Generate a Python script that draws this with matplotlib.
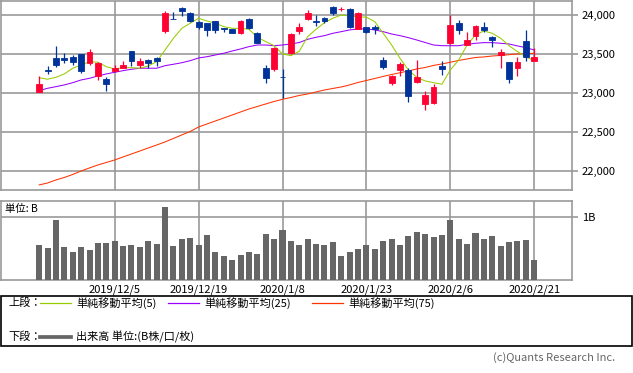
import numpy as np
import matplotlib
matplotlib.use("Agg")
import matplotlib.pyplot as plt
from matplotlib.patches import Rectangle
from matplotlib.lines import Line2D

plt.rcParams['font.family'] = ['Noto Sans CJK JP', 'DejaVu Sans']

# 2019/11/22 .. 2020/2/21, 60 trading days
opens = [23017, 23290, 23445, 23449, 23466, 23500, 23381, 23218, 23180, 23282,
         23325, 23538, 23363, 23423, 23453, 23790, 23953, 24086, 24021, 23910,
         23901, 23923, 23828, 23816, 23773, 23949, 23773, 23325, 23304, 23209,
         23517, 23795, 23949, 23918, 23966, 24107, 24075, 24077, 23816, 23842,
         23850, 23423, 23124, 23295, 23295, 23137, 22859, 22876, 23346, 23637,
         23893, 23615, 23731, 23842, 23722, 23487, 23402, 23325, 23667, 23414]
highs = [23218, 23346, 23603, 23517, 23487, 23500, 23564, 23393, 23201, 23355,
         23410, 23538, 23453, 23432, 23466, 24051, 24038, 24099, 24034, 23923,
         23901, 23927, 23837, 23816, 23936, 23962, 23783, 23359, 23594, 23308,
         23773, 23893, 24064, 24000, 23979, 24120, 24107, 24086, 24038, 23850,
         23872, 23458, 23231, 23393, 23317, 23423, 23030, 23115, 23410, 24000,
         23936, 23778, 23872, 23906, 23735, 23560, 23402, 23466, 23808, 23577]
lows = [23017, 23244, 23337, 23381, 23359, 23260, 23359, 23167, 23030, 23269,
        23325, 23350, 23317, 23317, 23350, 23765, 23945, 23991, 23910, 23824,
        23731, 23765, 23786, 23773, 23760, 23816, 23637, 23132, 23282, 22932,
        23500, 23753, 23936, 23859, 23901, 24000, 24051, 23837, 23816, 23773,
        23752, 23308, 23103, 23218, 22889, 23124, 22782, 22855, 23231, 23624,
        23752, 23615, 23680, 23778, 23594, 23325, 23124, 23218, 23410, 23414]
closes = [23115, 23286, 23359, 23423, 23397, 23286, 23522, 23381, 23119, 23317,
          23359, 23410, 23410, 23381, 23410, 24030, 23949, 24055, 23927, 23850,
          23808, 23808, 23824, 23773, 23923, 23829, 23645, 23196, 23581, 23205,
          23753, 23850, 24021, 23914, 23927, 24030, 24079, 23850, 24030, 23786,
          23816, 23337, 23218, 23372, 22962, 23201, 22974, 23073, 23308, 23872,
          23808, 23680, 23859, 23808, 23680, 23530, 23179, 23402, 23466, 23458]

ma5 = [23196, 23176, 23201, 23244, 23317, 23359, 23401, 23394, 23337, 23308,
       23324, 23324, 23317, 23346, 23401, 23551, 23701, 23829, 23894, 23958,
       23923, 23894, 23850, 23829, 23829, 23817, 23714, 23658, 23606, 23500,
       23478, 23535, 23722, 23817, 23901, 23958, 24000, 23987, 23978, 23971,
       23914, 23765, 23615, 23445, 23295, 23201, 23154, 23132, 23112, 23295,
       23423, 23615, 23744, 23795, 23765, 23701, 23606, 23530, 23465, 23410]
ma25 = [23030, 23060, 23081, 23103, 23132, 23167, 23188, 23218, 23244, 23265,
        23286, 23304, 23317, 23317, 23317, 23350, 23368, 23388, 23414, 23449,
        23465, 23487, 23509, 23538, 23564, 23594, 23615, 23615, 23606, 23615,
        23628, 23647, 23688, 23714, 23735, 23765, 23786, 23808, 23821, 23821,
        23808, 23786, 23756, 23735, 23709, 23679, 23647, 23615, 23606, 23606,
        23606, 23624, 23637, 23645, 23645, 23637, 23628, 23603, 23581, 23551]
ma75 = [21821, 21846, 21885, 21917, 21955, 22000, 22039, 22077, 22109, 22141,
        22180, 22218, 22256, 22295, 22333, 22372, 22417, 22462, 22506, 22564,
        22603, 22641, 22679, 22718, 22756, 22795, 22827, 22859, 22891, 22919,
        22942, 22968, 22987, 23013, 23038, 23058, 23077, 23103, 23135, 23160,
        23186, 23212, 23237, 23259, 23282, 23308, 23327, 23353, 23372, 23394,
        23417, 23436, 23455, 23462, 23474, 23481, 23491, 23500, 23504, 23509]

# volume in billions of shares
volume = [0.55, 0.51, 0.95, 0.52, 0.44, 0.52, 0.47, 0.58, 0.58, 0.62,
          0.54, 0.55, 0.52, 0.62, 0.57, 1.15, 0.54, 0.65, 0.66, 0.55,
          0.71, 0.44, 0.38, 0.32, 0.39, 0.44, 0.41, 0.73, 0.65, 0.79,
          0.62, 0.55, 0.65, 0.57, 0.55, 0.60, 0.38, 0.44, 0.49, 0.55,
          0.49, 0.62, 0.65, 0.55, 0.69, 0.76, 0.73, 0.68, 0.71, 0.95,
          0.65, 0.57, 0.74, 0.65, 0.69, 0.54, 0.60, 0.62, 0.63, 0.32]

date_idx = [9, 19, 29, 39, 49, 59]
date_labels = ["2019/12/5", "2019/12/19", "2020/1/8", "2020/1/23", "2020/2/6", "2020/2/21"]
price_ticks = [22000, 22500, 23000, 23500, 24000]

W, H = 633, 373
UP, DOWN = "#ff0033", "#003399"
GRID = "#999999"


def box(x0, y0, x1, y1):
    return [x0 / W, 1 - y1 / H, (x1 - x0) / W, (y1 - y0) / H]


def fx(px):
    return px / W


def fy(py):
    return 1 - py / H


o = np.array(opens)
c = np.array(closes)
x = np.arange(len(o))
cols = np.where(c >= o, UP, DOWN)

fig = plt.figure(figsize=(W / 100, H / 100), dpi=100)

# upper panel: candles + moving averages
ax = fig.add_axes(box(1, 1, 572, 190))
ax.set_xlim(-4.55, 63.5)
ax.set_ylim(21756, 24179)
ax.set_xticks(date_idx)
ax.set_xticklabels([])
ax.set_yticks(price_ticks)
ax.set_yticklabels([f"{v:,}" for v in price_ticks])
ax.yaxis.tick_right()
ax.tick_params(axis='x', length=0)
ax.tick_params(axis='y', length=4, width=1.2, color=GRID, labelsize=8, pad=3)
ax.grid(True, color=GRID, lw=1.2)
ax.set_axisbelow(True)
for s in ax.spines.values():
    s.set_color(GRID)
    s.set_linewidth(1.2)

ax.plot(x, ma75, color="#ff3300", lw=0.75, zorder=2)
ax.plot(x, ma25, color="#9900ff", lw=0.75, zorder=2)
ax.plot(x, ma5, color="#99cc00", lw=0.75, zorder=2)
ax.vlines(x, lows, highs, colors=cols, lw=0.9, zorder=3)
ax.bar(x, np.abs(c - o), bottom=np.minimum(o, c), width=0.7,
       color=cols, edgecolor=cols, linewidth=0.6, zorder=4)

# lower panel: volume
av = fig.add_axes(box(1, 201, 572, 280))
av.set_xlim(-4.55, 63.5)
av.set_ylim(0, 1.248)
av.bar(x, volume, width=0.72, color="#666666", zorder=3)
av.set_xticks(date_idx)
av.set_xticklabels(date_labels, fontsize=8)
av.set_yticks([1.0])
av.set_yticklabels(["1B"])
av.yaxis.tick_right()
av.tick_params(axis='x', length=0, pad=3)
av.tick_params(axis='y', length=4, width=1.2, color=GRID, labelsize=8, pad=3)
av.grid(True, color=GRID, lw=1.2)
av.set_axisbelow(True)
for s in av.spines.values():
    s.set_color(GRID)
    s.set_linewidth(1.2)
av.text(0.007, 0.9, "単位: B", transform=av.transAxes, fontsize=7.5,
        ha='left', va='center')

# legend box
fig.add_artist(Rectangle((fx(0.5), fy(346)), fx(631.5), 50 / H, transform=fig.transFigure,
                         fill=False, ec="black", lw=1.2))
fig.text(fx(8), fy(303), "上段：", fontsize=8, va='center')
fig.text(fx(8), fy(336.5), "下段：", fontsize=8, va='center')
legend_items = [(40, "#99cc00", "単純移動平均(5)"),
                (168, "#9900ff", "単純移動平均(25)"),
                (312, "#ff3300", "単純移動平均(75)")]
for lx, col, lab in legend_items:
    fig.add_artist(Line2D([fx(lx), fx(lx + 31)], [fy(303), fy(303)], color=col, lw=0.9,
                          transform=fig.transFigure))
    fig.text(fx(lx + 36), fy(303), lab, fontsize=8, va='center')
fig.add_artist(Line2D([fx(40), fx(71)], [fy(336.5), fy(336.5)], color="#666666", lw=2.7,
                      transform=fig.transFigure))
fig.text(fx(76), fy(336.5), "出来高 単位:(B株/口/枚)", fontsize=8, va='center')

fig.text(fx(615), fy(358), "(c)Quants Research Inc.", fontsize=8, color="#666666",
         ha='right', va='center')

fig.savefig("out.png", dpi=100)
